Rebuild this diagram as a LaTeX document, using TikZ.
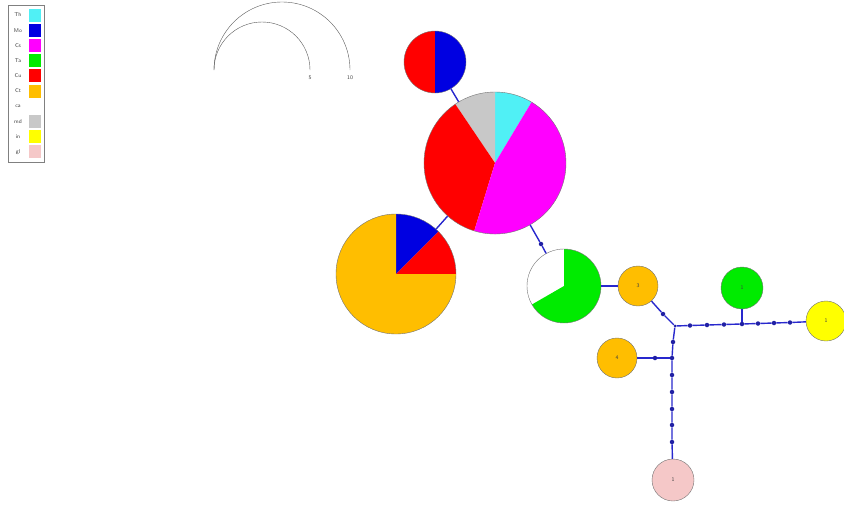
\documentclass[tikz,border=0pt]{standalone}
\usepackage{xcolor}
\usepackage{tikz}

\definecolor{thC}{RGB}{80,240,245}
\definecolor{moC}{RGB}{0,0,225}
\definecolor{csC}{RGB}{255,0,255}
\definecolor{taC}{RGB}{0,235,0}
\definecolor{cuC}{RGB}{255,0,0}
\definecolor{ctC}{RGB}{255,190,0}
\definecolor{mdC}{RGB}{200,200,200}
\definecolor{inC}{RGB}{255,255,0}
\definecolor{glC}{RGB}{245,200,200}
\definecolor{linkC}{RGB}{40,40,205}

\begin{document}
\begin{tikzpicture}[x=1pt,y=1pt,
  hap/.style={circle, draw=black!55, thin, inner sep=0pt},
  mut/.style={circle, fill=linkC!80!black, inner sep=0pt, minimum size=4.5pt},
  link/.style={draw=linkC, line width=1.4pt},
  lab/.style={font=\sffamily\fontsize{5.5}{6}\selectfont, text=black!75},
  keybox/.style={minimum width=12pt, minimum height=13pt, inner sep=0pt}]
  \useasboundingbox (0,0) rectangle (844,-506);
  % Legend
  \draw[black!50] (8,-5) rectangle (44,-162);
  \foreach \lbl/\col [count=\i] in {Th/thC, Mo/moC, Cs/csC, Ta/taC, Cu/cuC,
      Ct/ctC, ca/white, md/mdC, in/inC, gl/glC} {
    \node[lab] (l\i) at (18,{-15-15.2*(\i-1)}) {\lbl};
    \node[keybox, fill=\col] (k\i) at (35,{-15-15.2*(\i-1)}) {};
  }
  % Size scale
  \coordinate (s0) at (214,-70);
  \draw[black!65] (s0) arc (180:0:48pt) node[lab, below=2pt] (s5) {5};
  \draw[black!65] (s0) arc (180:0:68pt) node[lab, below=2pt] (s10) {10};
  % Pie centres
  \coordinate (pA) at (435,-62);
  \coordinate (pB) at (495,-163);
  \coordinate (pC) at (396,-274);
  \coordinate (pD) at (564,-286);
  % Pie slices
  \foreach \a/\b/\col in {90/270/cuC, -90/90/moC}
    \fill[\col] (pA) -- ++(\a:31pt) arc (\a:\b:31pt) -- cycle;
  \foreach \a/\b/\col in {59/90/thC, 90/124/mdC, 124/253/cuC, -107/59/csC}
    \fill[\col] (pB) -- ++(\a:71pt) arc (\a:\b:71pt) -- cycle;
  \foreach \a/\b/\col in {45/90/moC, 0/45/cuC, 90/360/ctC}
    \fill[\col] (pC) -- ++(\a:60pt) arc (\a:\b:60pt) -- cycle;
  \foreach \a/\b/\col in {90/210/white, -150/90/taC}
    \fill[\col] (pD) -- ++(\a:37pt) arc (\a:\b:37pt) -- cycle;
  % Haplotypes
  \node[hap, minimum size=62pt] (A) at (pA) {};
  \node[hap, minimum size=142pt] (B) at (pB) {};
  \node[hap, minimum size=120pt] (C) at (pC) {};
  \node[hap, minimum size=74pt] (D) at (pD) {};
  \node[hap, fill=ctC, minimum size=40pt, lab] (E) at (638,-286) {3};
  \node[hap, fill=ctC, minimum size=40pt, lab] (F) at (617,-358) {4};
  \node[hap, fill=taC, minimum size=42pt, lab] (G) at (742,-288) {1};
  \node[hap, fill=inC, minimum size=40pt, lab] (H) at (826,-321) {1};
  \node[hap, fill=glC, minimum size=42pt, lab] (P) at (673,-480) {1};
  % Median vectors and mutation steps
  \node[mut] (m1) at (541,-244) {};
  \node[mut] (m2) at (663,-314) {};
  \node[mut, minimum size=3pt] (j1) at (675,-326) {};
  \node[mut] (h1) at (690,-325.5) {};
  \node[mut] (h2) at (707,-325) {};
  \node[mut] (h3) at (724,-324.5) {};
  \node[mut] (j2) at (742,-324) {};
  \node[mut] (h4) at (758,-323.5) {};
  \node[mut] (h5) at (774,-323) {};
  \node[mut] (h6) at (790,-322.5) {};
  \node[mut] (v1) at (673,-342) {};
  \node[mut] (j3) at (672,-358) {};
  \node[mut] (v2) at (672,-375) {};
  \node[mut] (v3) at (672,-392) {};
  \node[mut] (v4) at (672,-409) {};
  \node[mut] (v5) at (672,-425) {};
  \node[mut] (v6) at (672,-442) {};
  \node[mut] (w1) at (655,-358) {};
  % Links
  \draw[link] (A) -- (B);
  \draw[link] (B) -- (C);
  \draw[link] (B) -- (m1) -- (D);
  \draw[link] (D) -- (E);
  \draw[link] (E) -- (m2) -- (j1);
  \draw[link] (j1) -- (h1) -- (h2) -- (h3) -- (j2) -- (h4) -- (h5) -- (h6) -- (H);
  \draw[link] (j2) -- (G);
  \draw[link] (j1) -- (v1) -- (j3) -- (v2) -- (v3) -- (v4) -- (v5) -- (v6) -- (P);
  \draw[link] (j3) -- (w1) -- (F);
\end{tikzpicture}
\end{document}
